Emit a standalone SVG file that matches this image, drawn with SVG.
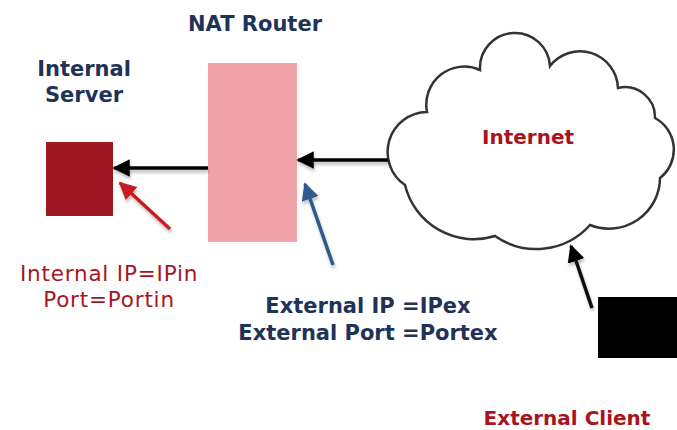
<svg xmlns="http://www.w3.org/2000/svg" width="677" height="430" viewBox="0 0 677 430">
<style>
.t{font-family:"DejaVu Sans",Verdana,sans-serif;font-size:21px}
.b{font-weight:bold}
.navy{fill:#1f3358}
.red{fill:#a8141e}
.ln{fill:none;stroke-width:3.5;filter:url(#sh)}
.il{font-size:21.5px;letter-spacing:0.8px}
</style>
<defs>
<filter id="sh" filterUnits="userSpaceOnUse" x="0" y="0" width="677" height="430"><feDropShadow dx="1" dy="3" stdDeviation="1.5" flood-color="#000" flood-opacity="0.25"/></filter>
<marker id="ak" viewBox="0 0 10 10" refX="9" refY="5" markerWidth="5" markerHeight="5" orient="auto" markerUnits="strokeWidth"><path d="M0,0 L10,5 L0,10 z" fill="#000"/></marker>
<marker id="ar" viewBox="0 0 10 10" refX="9" refY="5" markerWidth="5" markerHeight="5" orient="auto" markerUnits="strokeWidth"><path d="M0,0 L10,5 L0,10 z" fill="#c81e23"/></marker>
<marker id="ab" viewBox="0 0 10 10" refX="9" refY="5" markerWidth="5" markerHeight="5" orient="auto" markerUnits="strokeWidth"><path d="M0,0 L10,5 L0,10 z" fill="#2d5a8c"/></marker>
</defs>
<rect width="677" height="430" fill="#fff"/>
<g id="internal-server">
<rect x="46" y="142" width="67" height="74" fill="#9e1620"/>
<text class="t b navy" x="84" y="76" text-anchor="middle">Internal</text>
<text class="t b navy" x="84" y="102" text-anchor="middle">Server</text>
</g>
<g id="nat-router">
<rect x="208" y="63" width="89" height="179" fill="#f0a4a8"/>
<text class="t b navy" x="255" y="31" text-anchor="middle">NAT Router</text>
</g>
<g id="internet">
<path d="M405,185 A40,40 0 0 1 427,112 A38,38 0 0 1 480,70 A35,35 0 0 1 550,66 A38,38 0 0 1 618,88 A30,30 0 0 1 655,118 A36,36 0 0 1 660,178 A51,51 0 0 1 590,225 A72,72 0 0 1 495,236 A71,71 0 0 1 405,185 z" fill="#fff" stroke="#333" stroke-width="2.5"/>
<text class="t b red" x="528" y="144" text-anchor="middle" style="font-size:20px">Internet</text>
</g>
<g id="external-client">
<rect x="598" y="297" width="79" height="61" fill="#000"/>
<text class="t b red" x="567" y="425" text-anchor="middle" style="font-size:20px">External Client</text>
</g>
<g id="internal-label">
<text class="t red il" x="109" y="281" text-anchor="middle">Internal IP=IPin</text>
<text class="t red il" x="109" y="307" text-anchor="middle">Port=Portin</text>
</g>
<g id="external-label">
<text class="t b navy" x="368" y="313" text-anchor="middle">External IP =IPex</text>
<text class="t b navy" x="368" y="340" text-anchor="middle">External Port =Portex</text>
</g>
<g id="connectors">
<line class="ln" x1="208" y1="168" x2="114" y2="168" stroke="#000" marker-end="url(#ak)"/>
<line class="ln" x1="388" y1="160" x2="298" y2="160" stroke="#000" marker-end="url(#ak)"/>
<line class="ln" x1="170" y1="229" x2="120" y2="183" stroke="#c81e23" marker-end="url(#ar)"/>
<line class="ln" x1="333" y1="265" x2="305" y2="184" stroke="#2d5a8c" marker-end="url(#ab)"/>
<line class="ln" x1="592" y1="308" x2="571" y2="246" stroke="#111" marker-end="url(#ak)"/>
</g>
</svg>
